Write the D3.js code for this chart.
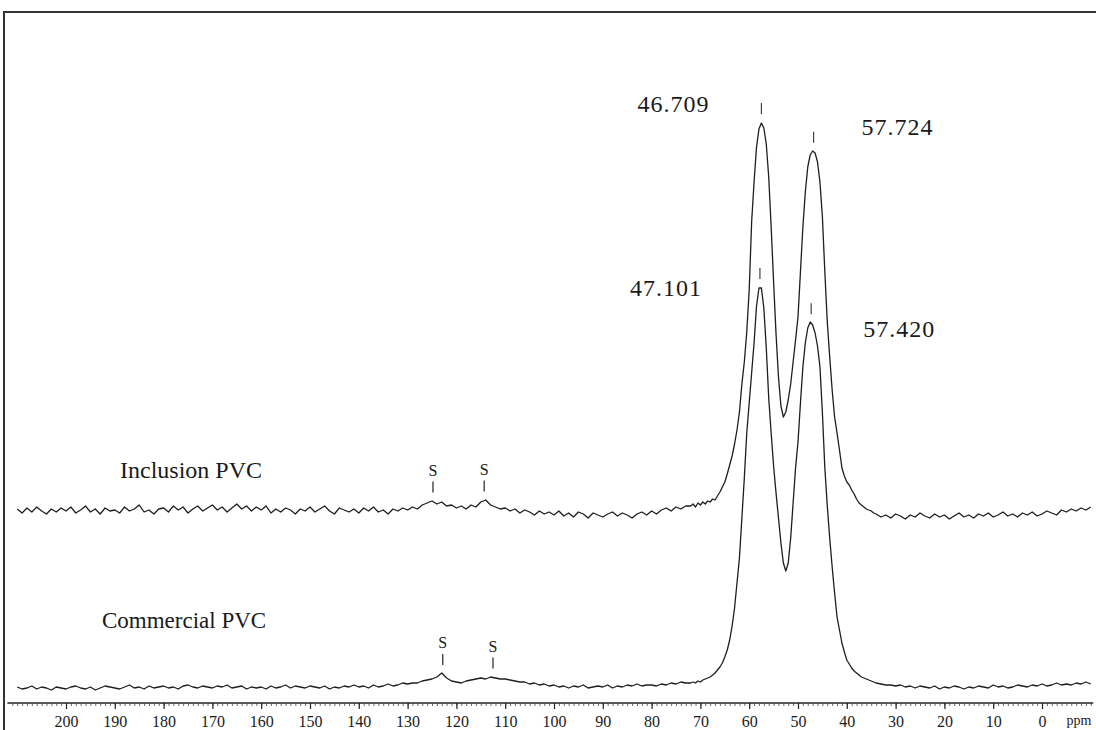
<!DOCTYPE html>
<html>
<head>
<meta charset="utf-8">
<script src="https://cdn.jsdelivr.net/npm/d3@7/dist/d3.min.js"></script>
<style>
  html, body { margin: 0; padding: 0; background: #fff; }
  svg { display: block; }
  text { font-family: "Liberation Serif", "Times New Roman", serif; fill: #1a1a1a; }
</style>
</head>
<body>
<svg id="chart" width="1096" height="730"></svg>
<script>
// ---------- DATA ----------
// chemical-shift sample grid (ppm): 1 ppm steps on the baselines, 0.5 ppm steps across the PVC peaks
const ppmLeft  = d3.range(210, 72.5, -1);     // 210 .. 73
const ppmPeak  = d3.range(72, 34.25, -0.5);   // 72 .. 34.5
const ppmRight = d3.range(34, -10.5, -1);     // 34 .. -10

// Inclusion PVC (upper trace), intensity in arbitrary units
const inclusionLeft = [
  3,-1,4,0,5,1,-2,3,0,4,
  1,5,-1,2,6,0,3,-2,4,1,
  2,-1,5,1,3,7,0,2,-2,3,
  4,0,6,2,5,-1,3,6,1,4,
  7,2,5,0,4,8,3,6,1,5,
  2,6,-1,3,0,4,2,-2,3,1,
  5,0,3,6,1,-2,4,2,0,3,
  -1,4,1,5,0,2,-2,3,1,4,
  2,5,3,7,9,11,8,10,6,7,
  4,6,3,7,5,10,12,7,5,3,
  4,1,3,-1,2,0,-3,1,-2,0,
  -3,1,-4,-1,-5,0,-2,-6,-1,-3,
  -5,-2,0,-4,-1,-3,-6,-2,0,-3,
  1,-2,2,4,1,5,3,6
];
const inclusionPeak = [
  6,8,5,9,7,10,8,11,10,13,
  12,16,20,25,30,38,47,56,68,82,
  100,128,150,180,222,290,330,365,383,389,
  384,368,335,285,230,178,135,106,95,100,
  112,128,150,172,195,240,285,320,345,357,
  361,359,350,330,295,240,190,155,122,95,
  79,62,44,36,30,27,22,18,13,9,
  7,5,3,2,1,-1
];
const inclusionRight = [
  -2,-5,-3,-6,-2,-4,-7,-3,-5,-1,
  -4,-6,-2,-5,-3,-7,-4,-1,-5,-3,
  -6,-2,-4,-1,-5,-3,0,-4,-2,-5,
  -1,-3,0,-4,-2,1,-1,-3,2,0,
  3,1,4,2,5
];

// Commercial PVC (lower trace)
const commercialLeft = [
  1,-1,0,2,-1,1,0,-2,1,0,
  -1,1,2,0,-1,1,-2,0,2,1,
  0,-1,1,3,0,1,-1,2,0,1,
  2,0,1,-1,2,3,1,0,2,1,
  0,2,1,3,0,1,2,-1,1,0,
  1,-1,2,0,1,3,0,2,1,0,
  2,1,0,2,-1,1,0,2,1,3,
  1,2,0,3,1,2,4,2,3,5,
  4,5,5,7,8,9,11,15,10,7,
  6,5,7,8,9,10,9,11,10,9,
  9,8,7,6,6,4,5,3,4,2,
  3,1,2,0,2,1,3,0,1,2,
  1,3,0,2,1,3,2,4,2,3,
  3,2,4,3,5,4,6,5
];
const commercialPeak = [
  5,6,5,7,6,8,9,10,11,13,
  15,18,21,25,31,38,48,62,80,105,
  130,170,210,255,285,315,345,382,400,400,
  380,340,290,255,222,195,170,145,125,117,
  125,150,185,220,246,285,321,345,360,366,
  363,355,342,321,275,220,182,150,121,95,
  71,58,45,36,28,24,20,17,15,13,
  11,10,9,8,7,6
];
const commercialRight = [
  5,4,3,3,2,3,1,2,0,2,
  1,0,2,-1,1,0,2,1,-1,1,
  0,2,1,0,3,1,2,0,1,3,
  2,1,3,2,4,2,3,5,3,4,
  3,5,4,6,4
];

const seriesNames   = ["Inclusion PVC", "Commercial PVC"];
const seriesOffsets = [191, 15];            // vertical stacking of the two spectra
const peakShifts    = [[57.5, 46.8], [57.8, 47.3]];       // marked peak positions (ppm)
const peakLabels    = [["46.709", "57.724"], ["47.101", "57.420"]];
const solventShifts = [[124.8, 114.3], [122.8, 112.5]];   // "S" marks (ppm)
const solventLabel  = "S";
const tickLabels    = d3.range(200, -1, -10);
const axisUnit      = "ppm";

// ---------- BUILD ----------
const ppmGrid = ppmLeft.concat(ppmPeak, ppmRight);
const series = [
  inclusionLeft.concat(inclusionPeak, inclusionRight),
  commercialLeft.concat(commercialPeak, commercialRight)
].map((vals, i) => ppmGrid.map((p, j) => ({ ppm: p, v: vals[j] + seriesOffsets[i] })));

const svg = d3.select("#chart");
const x = d3.scaleLinear().domain([200, 0]).range([66, 1042]);
const y = d3.scaleLinear().domain([0, 600]).range([703, 103]);

function valueAt(si, ppm) {
  const d = series[si];
  for (let k = 0; k < d.length - 1; k++) {
    const a = d[k], b = d[k + 1];
    if (ppm <= a.ppm && ppm >= b.ppm) {
      const t = (a.ppm - ppm) / (a.ppm - b.ppm);
      return a.v + t * (b.v - a.v);
    }
  }
  return 0;
}

// frame
svg.append("line").attr("x1", 3).attr("x2", 1096).attr("y1", 12).attr("y2", 12)
  .attr("stroke", "#333").attr("stroke-width", 2);
svg.append("line").attr("x1", 4).attr("x2", 4).attr("y1", 11).attr("y2", 730)
  .attr("stroke", "#333").attr("stroke-width", 2);

// traces
const line = d3.line().x(d => x(d.ppm)).y(d => y(d.v)).curve(d3.curveLinear);
svg.selectAll("path.trace").data(series).enter().append("path")
  .attr("class", "trace")
  .attr("d", line)
  .attr("fill", "none")
  .attr("stroke", "#1e1e1e")
  .attr("stroke-width", 1.3)
  .attr("stroke-linejoin", "round");

// axis
const axisY = 703;
const gAxis = svg.append("g").attr("transform", `translate(0,${axisY})`);
gAxis.append("line").attr("x1", x(212)).attr("x2", x(-10.5)).attr("y1", 0).attr("y2", 0)
  .attr("stroke", "#222").attr("stroke-width", 1.3);
const minorAxis = d3.axisBottom(x).tickValues(d3.range(211, -11, -1)).tickSize(3).tickFormat("");
const gMinor = gAxis.append("g").call(minorAxis);
gMinor.select(".domain").remove();
gMinor.selectAll("line").attr("stroke", "#444").attr("stroke-width", 0.8);
const majorAxis = d3.axisBottom(x).tickValues(tickLabels).tickSize(6).tickPadding(7).tickFormat(d3.format("d"));
const gMajor = gAxis.append("g").call(majorAxis);
gMajor.select(".domain").remove();
gMajor.selectAll("line").attr("stroke", "#222").attr("stroke-width", 1.2);
gMajor.selectAll("text")
  .style("font-family", '"Liberation Serif", "Times New Roman", serif')
  .style("font-size", "16px").attr("fill", "#1a1a1a");
gAxis.append("text").attr("x", 1079).attr("y", 22).attr("text-anchor", "middle")
  .style("font-size", "14px").text(axisUnit);

// series names
const nameAnchors = [[120, 478], [102, 628]];
const nameSizes = ["24px", "23px"];
seriesNames.forEach((n, i) => {
  svg.append("text").attr("x", nameAnchors[i][0]).attr("y", nameAnchors[i][1])
    .style("font-size", nameSizes[i]).text(n);
});

// peak marks and shift labels
const labelOffsets = [[[-88, -11], [84, -17]], [[-94, 8], [88, 14]]];
peakShifts.forEach((ps, si) => {
  ps.forEach((p, k) => {
    const top = y(valueAt(si, p));
    svg.append("line").attr("x1", x(p)).attr("x2", x(p))
      .attr("y1", top - 20).attr("y2", top - 9)
      .attr("stroke", "#333").attr("stroke-width", 1.1);
    svg.append("text")
      .attr("x", x(p) + labelOffsets[si][k][0])
      .attr("y", top + labelOffsets[si][k][1])
      .attr("text-anchor", "middle")
      .style("font-size", "24px").style("letter-spacing", "1px")
      .text(peakLabels[si][k]);
  });
});

// solvent marks
solventShifts.forEach((ss, si) => {
  ss.forEach(p => {
    const base = y(valueAt(si, p));
    svg.append("line").attr("x1", x(p)).attr("x2", x(p))
      .attr("y1", base - 20).attr("y2", base - 9)
      .attr("stroke", "#333").attr("stroke-width", 1.3);
    svg.append("text").attr("x", x(p)).attr("y", base - 26)
      .attr("text-anchor", "middle").style("font-size", "16px").text(solventLabel);
  });
});
</script>
</body>
</html>
